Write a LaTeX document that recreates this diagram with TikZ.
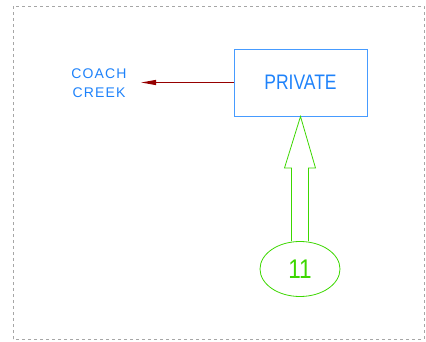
\documentclass[tikz,border=0pt]{standalone}
\usepackage{fontspec}
\setmainfont{Liberation Sans}
\usetikzlibrary{arrows.meta,calc,shapes.geometric}
\definecolor{cadblue}{RGB}{30,130,250}
\definecolor{cadbox}{RGB}{70,155,255}
\definecolor{cadgreen}{RGB}{60,215,0}
\definecolor{cadred}{RGB}{150,0,0}
\newcommand{\talltxt}[1]{\scalebox{1}[1.2]{#1}}
\begin{document}
\begin{tikzpicture}[x=1pt,y=1pt,
        zonebox/.style={draw=cadbox,line width=0.9pt,minimum width=133pt,minimum height=67pt,inner sep=0pt,text=cadblue,font=\fontsize{17.5}{20}\selectfont},
        streetlbl/.style={text=cadblue,align=center,font=\fontsize{14}{18.5}\selectfont\addfontfeatures{LetterSpace=8}},
        lotmark/.style={ellipse,draw=cadgreen,line width=0.8pt,minimum width=80pt,minimum height=55pt,inner sep=0pt,text=cadgreen,font=\fontsize{22.5}{24}\selectfont},
        flowline/.style={draw=cadred,line width=1.2pt,-{Triangle[length=15pt,width=5pt]}}]
        \useasboundingbox (0,0) rectangle (426,341);
        \draw [gray!70,dashed,line width=0.6pt] (13,2) rectangle (424,335);
        \node [zonebox] (priv) at (300.5,258.5) {\talltxt{PRIVATE}};
        \node [streetlbl] (coach) at (99,258) {COACH\\CREEK};
        \coordinate (tip) at (141,258.5);
        \draw [flowline] (priv.west) -- (tip);
        \node [lotmark] (lot) at (300,72) {\talltxt{11}};
        % block arrow from lot to zone
        \coordinate (neck) at (300,173);
        \draw [cadgreen,line width=0.8pt,line join=miter]
            ($(lot.north)+(-8.5,0)$) -- ($(neck)+(-8.5,0)$) -- ($(neck)+(-15.5,0)$)
            -- (priv.south) -- ($(neck)+(15.5,0)$) -- ($(neck)+(8.5,0)$)
            -- ($(lot.north)+(8.5,0)$);
    \end{tikzpicture}
\end{document}
